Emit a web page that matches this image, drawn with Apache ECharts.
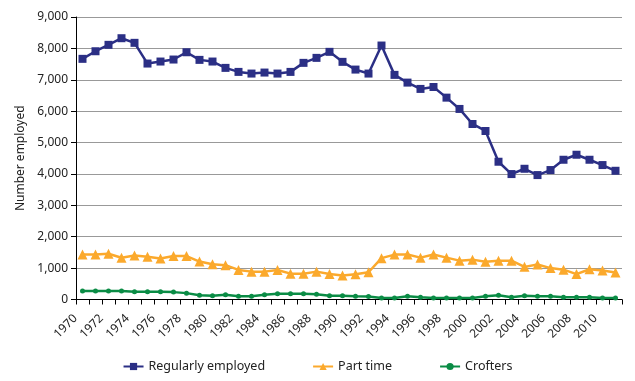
<!DOCTYPE html>
<html><head><meta charset="utf-8">
<script src="https://cdn.jsdelivr.net/npm/echarts@6/dist/echarts.min.js"></script>
<style>html,body{margin:0;padding:0;background:#fff}#c{width:635px;height:381px}</style>
</head><body><div id="c"></div>
<script>
const years = [];
for (let y = 1970; y <= 2011; y++) years.push(String(y));
const regularlyEmployed = [7667,7909,8113,8324,8177,7517,7581,7645,7877,7634,7581,7379,7251,7198,7230,7198,7251,7539,7698,7890,7571,7325,7198,8091,7156,6910,6709,6770,6431,6071,5592,5369,4389,3996,4165,3964,4124,4452,4612,4452,4283,4101];
const partTime = [1430,1430,1457,1328,1402,1360,1306,1383,1383,1209,1125,1093,942,888,888,942,823,823,888,810,765,804,868,1318,1431,1431,1334,1431,1334,1238,1270,1206,1238,1238,1040,1115,1000,950,810,965,925,860];
const crofters = [267,267,267,267,245,245,245,235,203,138,117,149,106,106,149,181,181,181,170,117,120,106,95,51,51,106,74,51,51,51,51,106,138,74,120,106,106,74,74,74,51,51];
const yTicks = [0,1000,2000,3000,4000,5000,6000,7000,8000,9000];

const chart = echarts.init(document.getElementById('c'));
const font = 'Noto Sans';
chart.setOption({
  animation: false,
  textStyle: {fontFamily: font},
  grid: {left: 76, right: 13, top: 17, bottom: 81.5, containLabel: false},
  legend: {
    bottom: 3, left: 'center', itemGap: 47, itemWidth: 20, itemHeight: 9,
    textStyle: {fontFamily: font, fontSize: 12.5, color: '#222'},
    data: ['Regularly employed', 'Part time', 'Crofters']
  },
  xAxis: {
    type: 'category', data: years, boundaryGap: true,
    axisLine: {lineStyle: {color: '#000', width: 1}},
    axisTick: {show: true, length: 5, lineStyle: {color: '#000'}, interval: 0},
    axisLabel: {interval: 1, rotate: 45, fontSize: 12, color: '#222', fontFamily: font, margin: 10, padding: [0, 10, 0, 0]}
  },
  yAxis: {
    type: 'value', min: yTicks[0], max: yTicks[yTicks.length-1], interval: 1000,
    name: 'Number employed', nameLocation: 'middle', nameGap: 46, nameRotate: 90,
    nameTextStyle: {fontSize: 12, color: '#222', fontFamily: font},
    axisLine: {show: true, lineStyle: {color: '#000'}},
    axisTick: {show: true, length: 5, inside: false, lineStyle: {color: '#000'}},
    splitLine: {lineStyle: {color: '#999', width: 1}},
    axisLabel: {fontSize: 12, color: '#222', fontFamily: font, margin: 8,
      formatter: v => v.toLocaleString('en-US')}
  },
  series: [
    {name: 'Regularly employed', type: 'line', data: regularlyEmployed,
     symbol: 'rect', symbolSize: 8, showAllSymbol: true, color: '#2B2F85',
     lineStyle: {width: 2.5, color: '#2B2F85'}, itemStyle: {color: '#2B2F85'}},
    {name: 'Part time', type: 'line', data: partTime,
     symbol: 'triangle', symbolSize: 10, showAllSymbol: true, color: '#FBA92C',
     lineStyle: {width: 2.5, color: '#FBA92C'}, itemStyle: {color: '#FBA92C'}},
    {name: 'Crofters', type: 'line', data: crofters,
     symbol: 'circle', symbolSize: 5, showAllSymbol: true, color: '#0A8C45',
     lineStyle: {width: 2.5, color: '#0A8C45'}, itemStyle: {color: '#0A8C45'}}
  ]
});
</script></body></html>
